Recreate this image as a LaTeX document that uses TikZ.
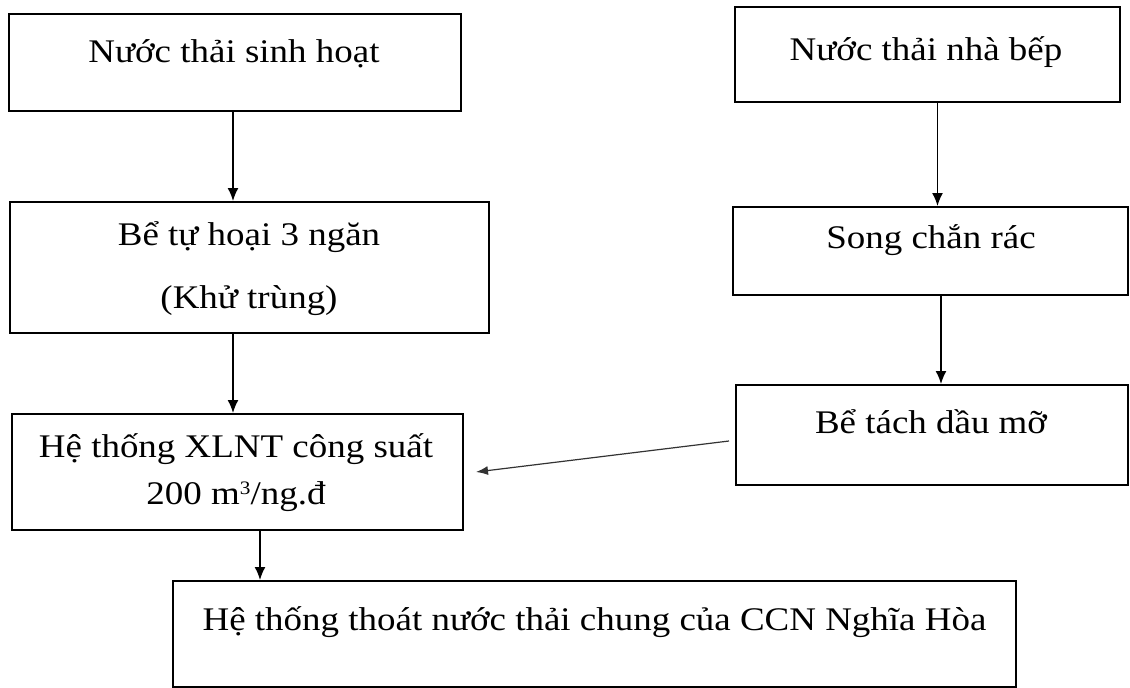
\documentclass[tikz,border=0pt]{standalone}
\usepackage{fontspec}
\setmainfont[FakeStretch=1.12]{Liberation Serif}
\usetikzlibrary{arrows.meta}

\tikzset{
  box/.style={draw=black, line width=2pt, inner sep=0pt},
  txt/.style={inner sep=0pt, anchor=base, font=\fontsize{33}{40}\selectfont},
  arr/.style={line width=1.6pt, -{Latex[length=13pt,width=11pt]}},
  thinarr/.style={line width=1.2pt, black!80, -{Latex[length=12pt,width=9pt]}}
}

\begin{document}
\begin{tikzpicture}[x=1pt, y=-1pt]
  % canvas
  \fill[white] (0,0) rectangle (1130,688);
  \useasboundingbox (0,0) rectangle (1130,688);

  % process boxes
  \node[box, minimum width=452pt, minimum height=97pt]  (b1) at (235,62.5)  {};
  \node[box, minimum width=479pt, minimum height=131pt] (b2) at (249.5,267.5) {};
  \node[box, minimum width=451pt, minimum height=116pt] (xl) at (237.5,472) {};
  \node[box, minimum width=843pt, minimum height=106pt] (ht) at (594.5,634) {};
  \node[box, minimum width=385pt, minimum height=95pt]  (nb) at (927.5,54.5) {};
  \node[box, minimum width=395pt, minimum height=88pt]  (sc) at (930.5,251) {};
  \node[box, minimum width=392pt, minimum height=100pt] (dm) at (932,435) {};

  % box captions
  \node[txt] (t1) at (234,62)  {Nước thải sinh hoạt};
  \node[txt] (t2a) at (249,245) {Bể tự hoại 3 ngăn};
  \node[txt] (t2b) at (249,308) {(Khử trùng)};
  \node[txt] (t3a) at (236,457) {Hệ thống XLNT công suất};
  \node[txt] (t3b) at (236,504) {200 m\raisebox{10pt}{\fontsize{19}{19}\selectfont 3}/ng.đ};
  \node[txt] (t4) at (594.5,630) {Hệ thống thoát nước thải chung của CCN Nghĩa Hòa};
  \node[txt] (t5) at (926,60)  {Nước thải nhà bếp};
  \node[txt] (t6) at (931,248) {Song chắn rác};
  \node[txt] (t7) at (931,433) {Bể tách dầu mỡ};

  % flow arrows
  \draw[arr] ([xshift=-2]b1.south) -- ([xshift=-2]b1.south |- b2.north);
  \draw[arr] ([xshift=-16.5]b2.south) -- ([xshift=-16.5]b2.south |- xl.north);
  \draw[arr] ([xshift=22.5]xl.south) -- ([xshift=22.5]xl.south |- ht.north);
  \draw[arr] ([xshift=10]nb.south) -- ([xshift=10]nb.south |- sc.north);
  \draw[arr] ([xshift=10.5]sc.south) -- ([xshift=10.5]sc.south |- dm.north);
  \draw[thinarr] ([shift={(-6,6)}]dm.west) -- ([xshift=12]xl.east);
\end{tikzpicture}
\end{document}
